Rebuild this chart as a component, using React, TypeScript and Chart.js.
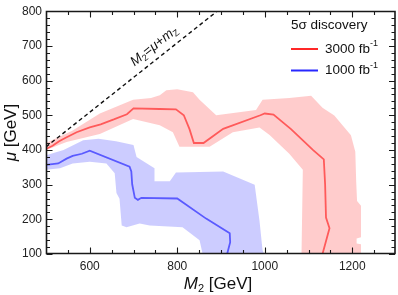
import React, { useEffect, useRef } from "react";
import { Chart, registerables } from "chart.js";
Chart.register(...registerables);

// ---- data (GeV) ----
const redLineM2 = [500, 515, 530, 545, 570, 600, 625, 655, 685, 700, 760, 797, 815, 828, 838, 860, 905, 990, 1000, 1020, 1060, 1110, 1135, 1138, 1140, 1148, 1132];
const redLineMu = [403, 412, 425, 435, 451, 465, 474, 488, 503, 520, 518, 517, 500, 460, 420, 420, 461, 500, 505, 502, 460, 400, 373, 300, 205, 174, 100];

const redBandM2 = [500, 560, 623, 699, 740, 760, 775, 800, 836, 851, 889, 980, 995, 1056, 1106, 1132, 1159, 1197, 1207, 1209, 1211, 1220, 1220, 1210, 1210, 1220, 1220, 1084, 1087, 1056, 1011, 988, 927, 874, 805, 790, 760, 699, 623, 547, 500];
const redBandMu = [420, 455, 505, 545, 550, 558, 572, 575, 566, 545, 500, 515, 545, 550, 556, 522, 499, 442, 395, 310, 253, 239, 148, 145, 130, 128, 100, 100, 343, 389, 443, 465, 451, 409, 409, 451, 471, 489, 446, 423, 400];

const blueLineM2 = [500, 528, 547, 561, 582, 600, 691, 695, 697, 703, 710, 718, 800, 866, 920, 921, 914];
const blueLineMu = [357, 361, 375, 383, 389, 398, 352, 338, 301, 262, 256, 262, 260, 202, 160, 134, 100];

const blueBandM2 = [500, 540, 585, 620, 660, 700, 707, 748, 748, 783, 797, 905, 977, 988, 995, 999, 858, 851, 812, 737, 714, 684, 673, 668, 661, 657, 638, 600, 561, 532, 500];
const blueBandMu = [385, 400, 428, 432, 425, 414, 380, 347, 310, 310, 335, 338, 300, 196, 111, 100, 100, 140, 177, 182, 188, 177, 182, 259, 276, 333, 361, 366, 361, 347, 343];

const mZ = 91.19;
const diagonalM2 = [500, 891.19];
const diagonalLabelM2 = 764;

const xMajorTicks = [600, 800, 1000, 1200];
const xMinorTicks = [550, 650, 700, 750, 850, 900, 950, 1050, 1100, 1150, 1250];
const yMajorTicks = [100, 200, 300, 400, 500, 600, 700, 800];
const yMinorTicks = [120, 140, 160, 180, 220, 240, 260, 280, 320, 340, 360, 380, 420, 440, 460, 480, 520, 540, 560, 580, 620, 640, 660, 680, 720, 740, 760, 780];

const legendLabels = ["3000", "1000"];
const legendTitle = "5σ discovery";

const FONT = "'Liberation Sans', Arial, sans-serif";
const RED_LINE = "rgb(255,90,90)";
const RED_BAND = "rgba(255,0,0,0.2)";
const BLUE_LINE = "rgb(90,90,255)";
const BLUE_BAND = "rgba(0,0,255,0.2)";

const pts = (xs: number[], ys: number[]) => xs.map((x, i) => ({ x, y: ys[i] }));

type Part = { t: string; style?: string; size: number; dy?: number };

function drawParts(ctx: CanvasRenderingContext2D, parts: Part[], x: number, y: number, align: "left" | "center") {
  let total = 0;
  const widths = parts.map((p) => {
    ctx.font = `${p.style || "normal"} ${p.size}px ${FONT}`;
    const w = ctx.measureText(p.t).width;
    total += w;
    return w;
  });
  let cx = align === "center" ? x - total / 2 : x;
  parts.forEach((p, i) => {
    ctx.font = `${p.style || "normal"} ${p.size}px ${FONT}`;
    ctx.fillText(p.t, cx, y + (p.dy || 0));
    cx += widths[i];
  });
}

function seg(ctx: CanvasRenderingContext2D, x0: number, y0: number, x1: number, y1: number) {
  ctx.moveTo(x0, y0);
  ctx.lineTo(x1, y1);
}

const decorPlugin = {
  id: "decor",
  afterDraw(chart: any) {
    const ctx: CanvasRenderingContext2D = chart.ctx;
    const a = chart.chartArea;
    const xs = chart.scales.x, ys = chart.scales.y;
    const L = Math.round(a.left) + 0.5, R = Math.round(a.right) - 1;
    const T = Math.round(a.top) + 0.5, B = Math.round(a.bottom) - 0.5;
    ctx.save();
    ctx.setLineDash([]);
    ctx.strokeStyle = "rgb(25,25,25)";
    ctx.lineWidth = 1.6;
    ctx.beginPath();
    ctx.rect(L, T, R - L, B - T);
    ctx.stroke();
    ctx.lineWidth = 1.1;
    ctx.beginPath();
    xMajorTicks.forEach((v) => { const px = Math.round(xs.getPixelForValue(v)) + 0.5; seg(ctx, px, B, px, B - 6); seg(ctx, px, T, px, T + 6); });
    xMinorTicks.forEach((v) => { const px = Math.round(xs.getPixelForValue(v)) + 0.5; seg(ctx, px, B, px, B - 3.5); seg(ctx, px, T, px, T + 3.5); });
    yMajorTicks.forEach((v) => { const py = Math.round(ys.getPixelForValue(v)) + 0.5; seg(ctx, L, py, L + 6, py); seg(ctx, R, py, R - 6, py); });
    yMinorTicks.forEach((v) => { const py = Math.round(ys.getPixelForValue(v)) + 0.5; seg(ctx, L, py, L + 3.5, py); seg(ctx, R, py, R - 3.5, py); });
    ctx.stroke();

    ctx.fillStyle = "#111";
    ctx.textBaseline = "alphabetic";
    drawParts(ctx, [
      { t: "M", style: "italic", size: 17 },
      { t: "2", size: 11, dy: 3 },
      { t: " [GeV]", size: 17 },
    ], (a.left + a.right) / 2 - 3, 289, "center");
    ctx.save();
    ctx.translate(16, (a.top + a.bottom) / 2);
    ctx.rotate(-Math.PI / 2);
    drawParts(ctx, [
      { t: "μ", style: "italic", size: 17 },
      { t: " [GeV]", size: 17 },
    ], 0, 0, "center");
    ctx.restore();

    const p0x = xs.getPixelForValue(diagonalM2[0]), p0y = ys.getPixelForValue(diagonalM2[0] - mZ);
    const p1x = xs.getPixelForValue(diagonalM2[1]), p1y = ys.getPixelForValue(diagonalM2[1] - mZ);
    const ang = Math.atan2(p1y - p0y, p1x - p0x);
    const nx = Math.sin(ang), ny = -Math.cos(ang);
    const cxp = xs.getPixelForValue(diagonalLabelM2), cyp = ys.getPixelForValue(diagonalLabelM2 - mZ);
    ctx.save();
    ctx.translate(cxp + nx * 8, cyp + ny * 8);
    ctx.rotate(ang);
    drawParts(ctx, [
      { t: "M", style: "italic", size: 13.5 },
      { t: "2", size: 9, dy: 2.5 },
      { t: "=", size: 13.5 },
      { t: "μ", style: "italic", size: 13.5 },
      { t: "+", size: 13.5 },
      { t: "m", style: "italic", size: 13.5 },
      { t: "Z", size: 9, dy: 2.5 },
    ], 0, 0, "center");
    ctx.restore();

    ctx.textBaseline = "middle";
    ctx.font = `13.5px ${FONT}`;
    ctx.fillText(legendTitle, 291, 25);
    const cols = ["rgb(255,40,40)", "rgb(40,40,255)"];
    legendLabels.forEach((lab, i) => {
      const y = 49 + i * 21.5;
      ctx.strokeStyle = cols[i];
      ctx.lineWidth = 2;
      ctx.beginPath();
      seg(ctx, 291, y, 318, y);
      ctx.stroke();
      drawParts(ctx, [
        { t: lab + " fb", size: 13.5 },
        { t: "-1", size: 9, dy: -5 },
      ], 325, y, "left");
    });
    ctx.restore();
  },
};

export default function App() {
  const ref = useRef<HTMLCanvasElement>(null);
  useEffect(() => {
    const chart = new Chart(ref.current!, {
      type: "line",
      data: {
        datasets: [
          { data: pts(redLineM2, redLineMu), borderColor: RED_LINE, borderWidth: 1.8, pointRadius: 0, fill: false, order: 1 },
          { data: pts(blueLineM2, blueLineMu), borderColor: BLUE_LINE, borderWidth: 1.8, pointRadius: 0, fill: false, order: 1 },
          { data: pts(diagonalM2, diagonalM2.map((m) => m - mZ)), borderColor: "#111", borderWidth: 1.4, borderDash: [4, 3], pointRadius: 0, fill: false, order: 2 },
          { data: pts(redBandM2, redBandMu), borderWidth: 0, borderColor: "rgba(0,0,0,0)", backgroundColor: RED_BAND, pointRadius: 0, fill: "shape", order: 3 },
          { data: pts(blueBandM2, blueBandMu), borderWidth: 0, borderColor: "rgba(0,0,0,0)", backgroundColor: BLUE_BAND, pointRadius: 0, fill: "shape", order: 3 },
        ] as any,
      },
      options: {
        animation: false,
        responsive: false,
        devicePixelRatio: 1,
        layout: { padding: { top: 7, right: 2, left: 0, bottom: 0 }, autoPadding: false } as any,
        plugins: { legend: { display: false }, tooltip: { enabled: false } },
        elements: { line: { tension: 0 } },
        scales: {
          x: {
            type: "linear",
            min: 500,
            max: 1300,
            grid: { display: false, drawTicks: false },
            border: { display: false },
            afterBuildTicks: (s: any) => { s.ticks = xMajorTicks.map((v) => ({ value: v })); },
            afterFit: (s: any) => { s.height = 41; },
            ticks: { font: { family: FONT, size: 12 }, color: "#222", padding: 5, maxRotation: 0, callback: (v: any) => String(v) },
          },
          y: {
            type: "linear",
            min: 100,
            max: 800,
            grid: { display: false, drawTicks: false },
            border: { display: false },
            afterBuildTicks: (s: any) => { s.ticks = yMajorTicks.map((v) => ({ value: v })); },
            afterFit: (s: any) => { s.width = 46; },
            ticks: { font: { family: FONT, size: 12 }, color: "#222", padding: 4, callback: (v: any) => String(v) },
          },
        },
      },
      plugins: [decorPlugin],
    });
    return () => chart.destroy();
  }, []);
  return (
    <div style={{ position: "absolute", left: 0, top: 0, width: 398, height: 295 }}>
      <canvas ref={ref} width={398} height={295} style={{ display: "block" }} />
    </div>
  );
}
